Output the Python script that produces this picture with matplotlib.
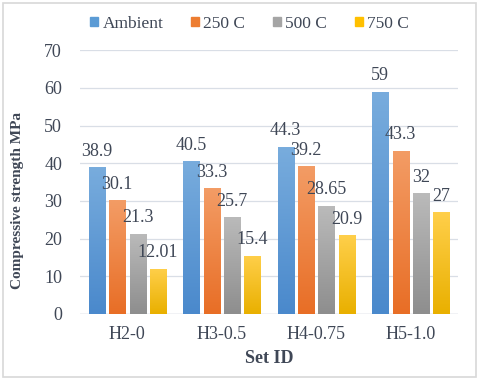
import numpy as np
import matplotlib.pyplot as plt
from matplotlib.colors import LinearSegmentedColormap
from matplotlib.patches import Rectangle

plt.rcParams['font.family'] = ['Liberation Serif', 'DejaVu Serif']

sets = ['H2-0', 'H3-0.5', 'H4-0.75', 'H5-1.0']
series = ['Ambient', '250 C', '500 C', '750 C']
ambient = [38.9, 40.5, 44.3, 59]
c250 = [30.1, 33.3, 39.2, 43.3]
c500 = [21.3, 25.7, 28.65, 32]
c750 = [12.01, 15.4, 20.9, 27]
labels = [['38.9', '40.5', '44.3', '59'],
          ['30.1', '33.3', '39.2', '43.3'],
          ['21.3', '25.7', '28.65', '32'],
          ['12.01', '15.4', '20.9', '27']]

# (top, bottom, legend) colours for the gradient fills
colors = [('#78acdd', '#4a89cc', '#5b9bd5'),
          ('#f39c65', '#e86e26', '#ed7d31'),
          ('#bababa', '#8e8e8e', '#a5a5a5'),
          ('#ffcf4a', '#e9b000', '#ffc000')]
txt = '#3f4756'

fig = plt.figure(figsize=(4.8, 3.8), dpi=100)
ax = fig.add_axes([0.167, 0.174, 0.787, 0.694])

x = np.arange(len(sets))
w = 0.17
step = 0.215
vals = [ambient, c250, c500, c750]
grad = np.linspace(0, 1, 100).reshape(-1, 1)
for i, (v, (top, bot, leg)) in enumerate(zip(vals, colors)):
    pos = x + (i - 1.5) * step
    bars = ax.bar(pos, v, w, color=leg, edgecolor='white', linewidth=0.6, label=series[i], zorder=2)
    cmap = LinearSegmentedColormap.from_list('g%d' % i, [bot, top])
    for b in bars:
        bx, by = b.get_x(), b.get_y()
        bw, bh = b.get_width(), b.get_height()
        im = ax.imshow(grad, cmap=cmap, aspect='auto', origin='lower',
                       extent=[bx, bx + bw, by, by + bh], zorder=2.5)
        im.set_clip_path(b)
    for p, val, lab in zip(pos, v, labels[i]):
        ax.text(p, val + 2.0, lab, ha='center', va='bottom', fontsize=13, color=txt, zorder=4)

ax.set_xlim(-0.5, 3.5)
ax.set_ylim(0, 70)
ax.set_yticks(range(0, 71, 10))
ax.set_xticks(x)
ax.set_xticklabels(sets)
ax.tick_params(length=0, labelsize=13, labelcolor=txt)
ax.tick_params(axis='y', pad=13)
ax.tick_params(axis='x', pad=9)
ax.grid(axis='y', color='#d9dee6', linewidth=0.9, zorder=0)
ax.set_axisbelow(True)
for s in ax.spines.values():
    s.set_visible(False)
ax.axhline(0, color='#d0d5dd', linewidth=1, zorder=1)

ax.set_xlabel('Set ID', fontsize=13, fontweight='bold', color=txt, labelpad=5)
ax.set_ylabel('Compressive strength MPa', fontsize=11, fontweight='bold', color=txt)
ax.yaxis.set_label_coords(-0.148, 0.43)

handles = [Rectangle((0, 0), 1, 1, color=c[2]) for c in colors]
fig.legend(handles, series, loc='upper center', bbox_to_anchor=(0.52, 1.0), ncol=4,
           frameon=False, fontsize=12.5, handlelength=0.45, handleheight=0.45,
           handletextpad=0.25, columnspacing=1.6, labelcolor=txt)

fig.patches.append(Rectangle((0.006, 0.008), 0.985, 0.984, transform=fig.transFigure,
                             fill=False, edgecolor='#d8d8d8', linewidth=1.2))

fig.savefig('out.png', dpi=100)
